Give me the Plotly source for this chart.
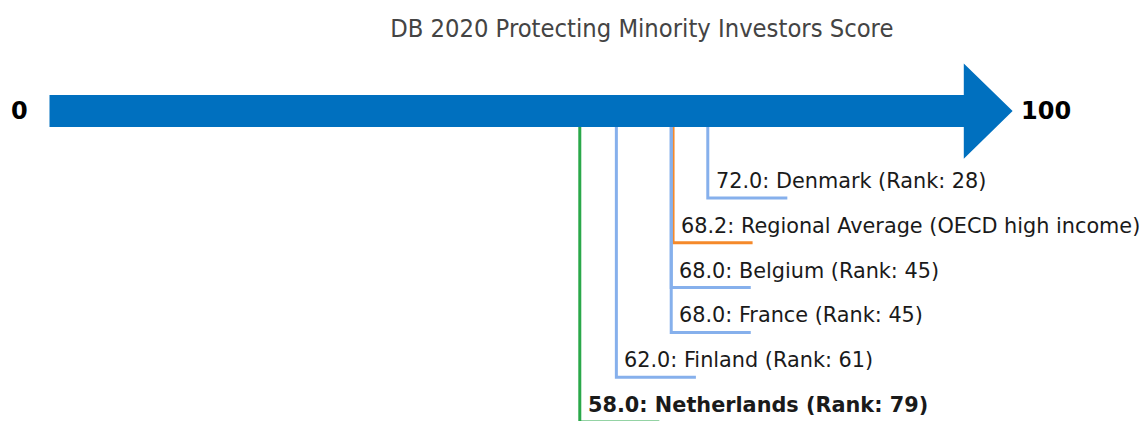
import plotly.graph_objects as go

# ---- data ----
names = ["Denmark", "Regional Average (OECD high income)", "Belgium", "France", "Finland", "Netherlands"]
scores = [72.0, 68.2, 68.0, 68.0, 62.0, 58.0]
ranks = [28, None, 45, 45, 61, 79]
kinds = ["peer", "region", "peer", "peer", "peer", "focus"]
axis_min, axis_max = 0, 100
title_text = "DB 2020 Protecting Minority Investors Score"

# ---- style ----
ARROW_COLOR = "#0070bf"
COLORS = {"peer": "#86b0ec", "region": "#f5892a", "focus": "#2aa84a"}
TXT = "#1a1a1a"
FONT = "DejaVu Sans"
ARROW_Y = -0.94          # arrow centre row
BODY_HALF = 0.357        # half thickness of body (rows)
HEAD_HALF = 1.065        # half height of head (rows)
HEAD_LEN = 5.34          # head length (x units)
TICK_LEN = 8.7           # horizontal foot length (x units)
LABEL_LIFT = 0.38        # label centre above its foot line (rows)

fig = go.Figure()

# arrow
ax = [axis_min, axis_max, axis_max, axis_max + HEAD_LEN, axis_max, axis_max, axis_min, axis_min]
ay = [ARROW_Y - BODY_HALF, ARROW_Y - BODY_HALF, ARROW_Y - HEAD_HALF, ARROW_Y,
      ARROW_Y + HEAD_HALF, ARROW_Y + BODY_HALF, ARROW_Y + BODY_HALF, ARROW_Y - BODY_HALF]
fig.add_trace(go.Scatter(x=ax, y=ay, mode="lines", fill="toself", fillcolor=ARROW_COLOR,
                         line=dict(color=ARROW_COLOR, width=0), hoverinfo="skip", showlegend=False))

annotations = []
for i, (n, s, r, k) in enumerate(zip(names, scores, ranks, kinds)):
    row = i + 1
    c = COLORS[k]
    fig.add_trace(go.Scatter(x=[s, s, s + TICK_LEN], y=[ARROW_Y + BODY_HALF, row, row],
                             mode="lines", line=dict(color=c, width=3),
                             hoverinfo="skip", showlegend=False))
    label = f"{s:.1f}: {n}" + (f" (Rank: {r})" if r is not None else "")
    if k == "focus":
        label = f"<b>{label}</b>"
    annotations.append(dict(x=s, y=row - LABEL_LIFT, xref="x", yref="y", text=label, showarrow=False,
                            xanchor="left", yanchor="middle", xshift=6,
                            font=dict(family=FONT, size=20.8, color=TXT)))

annotations.append(dict(x=axis_min, y=ARROW_Y, xref="x", yref="y", text=f"<b>{axis_min}</b>",
                        showarrow=False, xanchor="right", yanchor="middle", xshift=-20,
                        font=dict(family=FONT, size=24, color="black")))
annotations.append(dict(x=axis_max + HEAD_LEN, y=ARROW_Y, xref="x", yref="y", text=f"<b>{axis_max}</b>",
                        showarrow=False, xanchor="left", yanchor="middle", xshift=6,
                        font=dict(family=FONT, size=24, color="black")))

fig.update_layout(
    width=1144, height=421,
    margin=dict(l=0, r=0, t=0, b=0),
    paper_bgcolor="white", plot_bgcolor="white",
    title=dict(text=title_text, x=0.561, xanchor="center", y=0.933, yanchor="middle",
               xref="paper", yref="container",
               font=dict(family="DejaVu Sans Condensed", size=25.3, color="#444")),
    xaxis=dict(range=[-5.414, 119.71], visible=False, fixedrange=True),
    yaxis=dict(range=[5.978, -3.42], visible=False, fixedrange=True),
    annotations=annotations,
    showlegend=False,
)

fig.write_html("out.html", config={"displayModeBar": False},
               post_script="document.body.style.margin='0';document.body.style.overflow='hidden';")
